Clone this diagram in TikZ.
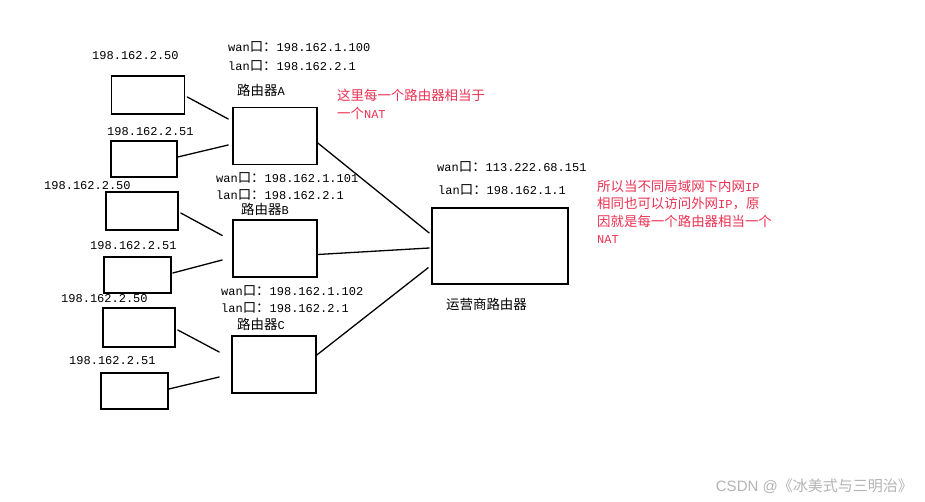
\documentclass[tikz,border=0pt]{standalone}
\usepackage{fontspec}
\usepackage{xcolor}
\usepackage{tikz}
\usetikzlibrary{positioning}
\setmainfont{Liberation Mono}
\newfontfamily\cjk[Scale=1.12]{Noto Sans CJK SC}
\newfontfamily\marksans{Liberation Sans}
\newfontfamily\markcjk{Noto Sans CJK SC}
\newcommand{\zh}[1]{{\cjk #1}}
\definecolor{noteRed}{HTML}{EC3152}
\definecolor{markGrey}{HTML}{B4B4B4}
\tikzset{
  box/.style={draw=black, line width=1.6pt, fill=white, inner sep=0pt},
  host/.style={box, minimum width=70pt, minimum height=37pt},
  router/.style={box, minimum width=84pt, minimum height=57pt},
  wire/.style={line width=1.3pt, line cap=round},
  ipLabel/.style={anchor=west, inner sep=0pt, font=\fontsize{12pt}{14pt}\selectfont},
  note/.style={ipLabel, text=noteRed, align=left, font=\fontsize{12pt}{17.5pt}\selectfont}
}

\begin{document}
\begin{tikzpicture}[x=1pt,y=-1pt]
\path[use as bounding box, fill=white] (0,0) rectangle (925,502);

% router A and its two hosts
\node[router] (rA) at (275,136) {};
\node[host, minimum width=73pt, minimum height=38pt] (hA1) at (148,95) {};
\node[host, minimum width=66pt, minimum height=36pt] (hA2) at (144,159) {};
\node[ipLabel] (ipA1) at (92,56) {198.162.2.50};
\node[ipLabel] (ipA2) at (107,132) {198.162.2.51};
\node[ipLabel] (wanA) at (228,47) {wan\zh{口：}198.162.1.100};
\node[ipLabel] (lanA) at (228,66) {lan\zh{口：}198.162.2.1};
\node[ipLabel] (nameA) at (237,90) {\zh{路由器}A};
\draw[wire] ([xshift=2pt,yshift=-2pt]hA1.east) -- ([xshift=-4pt,yshift=17pt]rA.west);
\draw[wire] ([yshift=2pt]hA2.east) -- ([xshift=-4pt,yshift=-9pt]rA.west);

% router B and its two hosts
\node[router] (rB) at (275,248.5) {};
\node[host, minimum width=72pt, minimum height=38pt] (hB1) at (142,211) {};
\node[host, minimum width=67pt, minimum height=36pt] (hB2) at (137.5,275) {};
\node[ipLabel] (ipB1) at (44,186) {198.162.2.50};
\node[ipLabel] (ipB2) at (90,246) {198.162.2.51};
\node[ipLabel] (wanB) at (216,178) {wan\zh{口：}198.162.1.101};
\node[ipLabel] (lanB) at (216,195) {lan\zh{口：}198.162.2.1};
\node[ipLabel] (nameB) at (241,209) {\zh{路由器}B};
\draw[wire] ([xshift=2pt,yshift=-2pt]hB1.east) -- ([xshift=-10pt,yshift=13pt]rB.west);
\draw[wire] ([xshift=1pt,yshift=2pt]hB2.east) -- ([xshift=-10pt,yshift=-11.5pt]rB.west);

% router C and its two hosts
\node[router] (rC) at (274,364.5) {};
\node[host, minimum width=72pt, minimum height=39pt] (hC1) at (139,327.5) {};
\node[host, minimum width=67pt, minimum height=36pt] (hC2) at (134.5,391) {};
\node[ipLabel] (ipC1) at (61,299) {198.162.2.50};
\node[ipLabel] (ipC2) at (69,361) {198.162.2.51};
\node[ipLabel] (wanC) at (221,291) {wan\zh{口：}198.162.1.102};
\node[ipLabel] (lanC) at (221,308) {lan\zh{口：}198.162.2.1};
\node[ipLabel] (nameC) at (237,324) {\zh{路由器}C};
\draw[wire] ([xshift=2pt,yshift=-2.5pt]hC1.east) -- ([xshift=-12pt,yshift=12.5pt]rC.west);
\draw[wire] ([yshift=2pt]hC2.east) -- ([xshift=-12pt,yshift=-12.5pt]rC.west);

% carrier router
\node[box, minimum width=136pt, minimum height=76pt] (isp) at (500,246) {};
\node[ipLabel] (wanIsp) at (437,167) {wan\zh{口：}113.222.68.151};
\node[ipLabel] (lanIsp) at (438,190) {lan\zh{口：}198.162.1.1};
\node[ipLabel] (nameIsp) at (446,304) {\zh{运营商路由器}};
\draw[wire] ([yshift=-7pt]rA.east) -- ([xshift=-2pt,yshift=13pt]isp.west);
\draw[wire] ([yshift=-6pt]rB.east) -- ([xshift=-2pt,yshift=-2pt]isp.west);
\draw[wire] ([yshift=9.5pt]rC.east) -- ([xshift=-3pt,yshift=-21.7pt]isp.west);

% remarks
\node[note, anchor=north west] (noteNat) at (337,89) {\zh{这里每一个路由器相当于}\\\zh{一个}NAT};
\node[note, anchor=north west] (noteWhy) at (597,180)
  {\zh{所以当不同局域网下内网}IP\\\zh{相同也可以访问外网}IP\zh{，原}\\\zh{因就是每一个路由器相当一个}\\NAT};
\node[anchor=east, inner sep=0pt, text=markGrey, font=\fontsize{15pt}{17pt}\selectfont] (mark) at (913,486)
  {{\marksans CSDN @}{\markcjk 《冰美式与三明治》}};
\end{tikzpicture}
\end{document}
